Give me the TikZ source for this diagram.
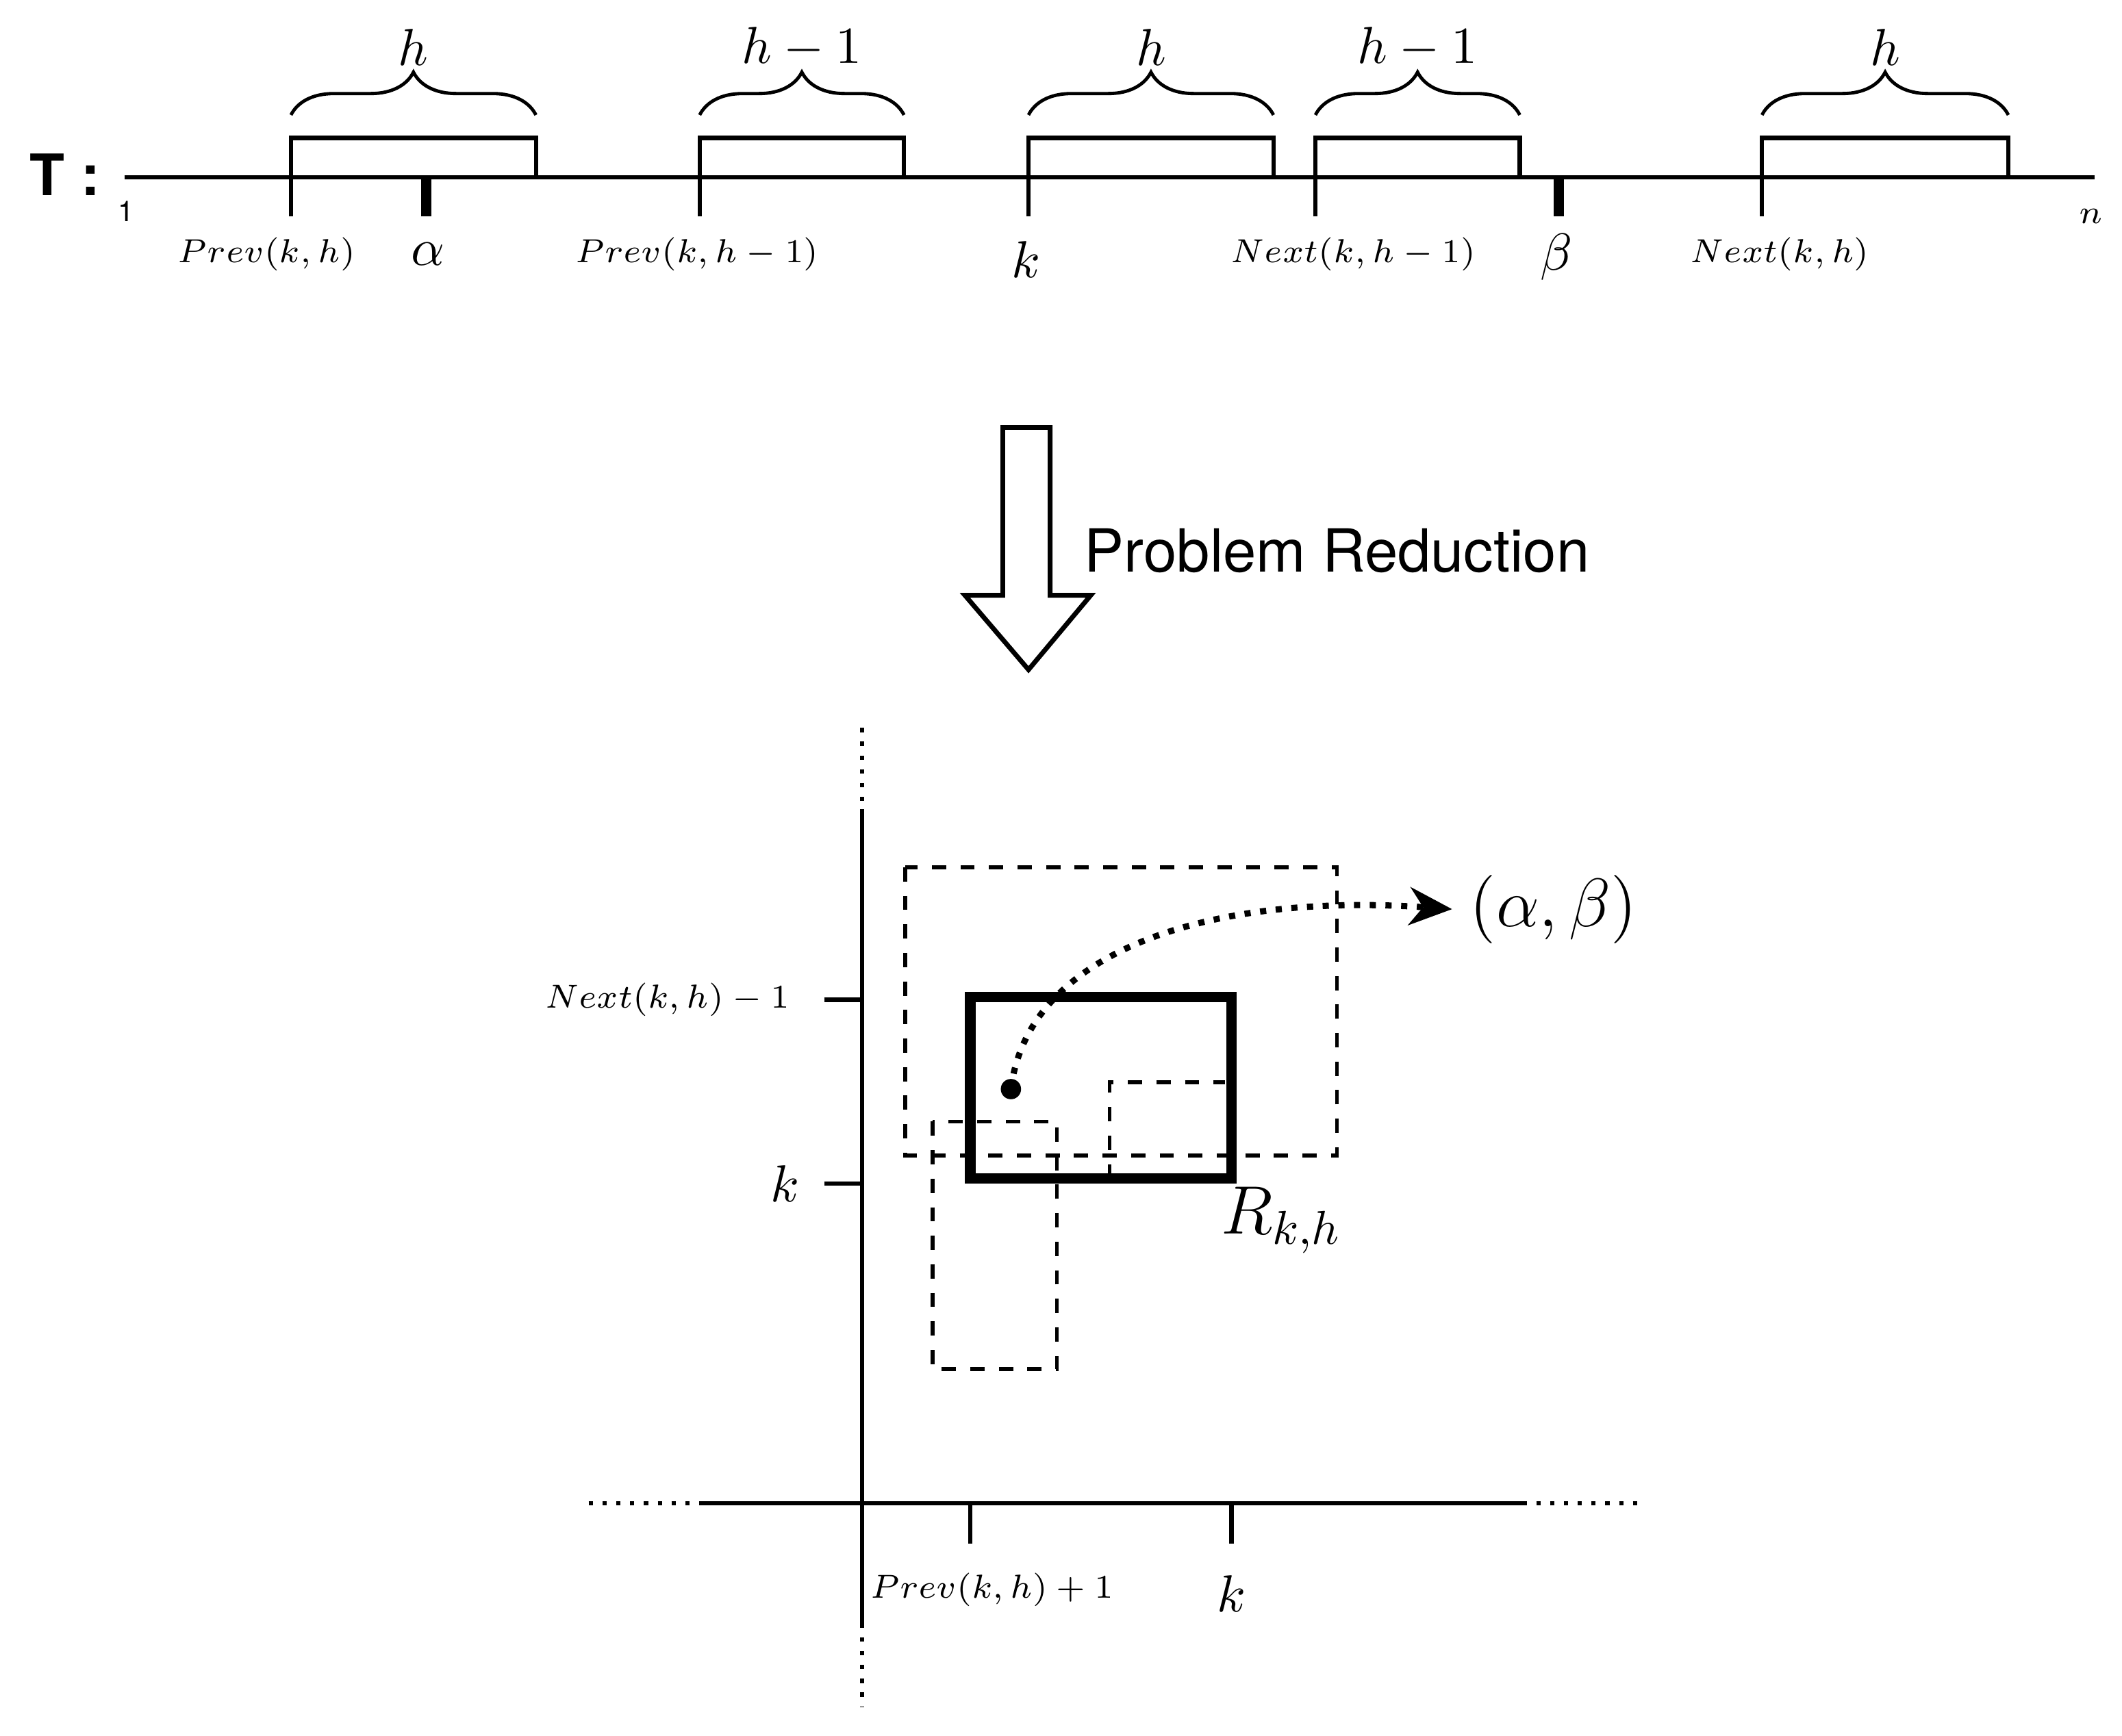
\documentclass[tikz,border=0pt]{standalone}
\usepackage{fontspec}
\newfontfamily\heros{TeX Gyre Heros}
\usetikzlibrary{decorations.pathreplacing,arrows.meta,shapes.arrows}
\begin{document}
\begin{tikzpicture}[x=0.01cm,y=-0.01cm,line width=0.9pt,
  lab/.style={font=\fontsize{7.5}{9}\selectfont},
  top/.style={font=\fontsize{11}{13}\selectfont},
  brc/.style={decorate,decoration={brace,amplitude=9pt},line width=0.7pt},
  dsh/.style={dashed,line width=0.8pt}]
\useasboundingbox (0,0) rectangle (1568,1283);
% timeline
\node[font=\heros\bfseries\fontsize{12}{14}\selectfont] (T) at (48,129) {T :};
\coordinate (L) at (92,131); \coordinate (R) at (1548,131);
\draw (L) -- (R);
\node[font=\heros\fontsize{6}{7}\selectfont] (one) at (93,156) {1};
\node[lab] (n) at (1545,160) {$n$};
\foreach \a/\b/\t/\nm in {215/396/h/b1,517/668/h-1/b2,760/941/h/b3,972/1123/h-1/b4,1302/1484/h/b5}{
  \draw (\a,160) -- (\a,102) -- (\b,102) -- (\b,131);
  \draw[brc] (\a,85) -- (\b,85);
  \node[top] (\nm) at ({(\a+\b)/2},35) {$\t$};
}
\draw[line width=2.2pt] (315,131) -- (315,160);
\draw[line width=2.2pt] (1152,131) -- (1152,160);
\node[lab] (p1) at (197,188) {$Prev(k,h)$};
\node[top] (al) at (316,188) {$\alpha$};
\node[lab] (p2) at (515,188) {$Prev(k,h-1)$};
\node[top] (kk) at (758,192) {$k$};
\node[lab] (n1) at (1000,188) {$Next(k,h-1)$};
\node[top] (be) at (1150,190) {$\beta$};
\node[lab] (n2) at (1315,188) {$Next(k,h)$};
% big arrow
\draw[line width=1pt,fill=white] (741,316) -- (776,316) -- (776,440) -- (806,440) -- (760,495) -- (713,440) -- (741,440) -- cycle;
\node[font=\heros\fontsize{12.5}{14}\selectfont] (pr) at (988,407) {Problem Reduction};
% axes
\draw (637,598) -- (637,1200);
\draw[dotted] (637,538) -- (637,598); \draw[dotted] (637,1200) -- (637,1262);
\draw (517,1111) -- (1125,1111);
\draw[dotted] (435,1111) -- (517,1111); \draw[dotted] (1125,1111) -- (1212,1111);
\draw (609,739) -- (637,739); \draw (609,875) -- (637,875);
\draw (717,1111) -- (717,1141); \draw (910,1111) -- (910,1141);
\node[lab,anchor=east] (ny) at (597,739) {$Next(k,h)-1$};
\node[top] (ky) at (580,875) {$k$};
\node[lab] (px) at (733,1175) {$Prev(k,h)+1$};
\node[top] (kx) at (910,1178) {$k$};
% rectangles
\draw[dsh] (669,641) rectangle (988,854);
\draw[dsh] (689,829) rectangle (781,1012);
\draw[dsh] (820,871) -- (820,800) -- (905,800);
\draw[line width=2.2pt] (717,737) rectangle (910,871);
\node[font=\fontsize{14}{16}\selectfont] (Rk) at (947,902) {$R_{k,h}$};
\fill (747,805) circle (7.5);
\coordinate (dot) at (747,805);
\node[font=\fontsize{15}{17}\selectfont] (ab) at (1148,672) {$(\alpha,\beta)$};
\draw[dotted,line width=1.3pt,-{Stealth[length=9pt,width=8pt]}] (dot) .. controls (760,700) and (900,660) .. (ab.west);
\end{tikzpicture}
\end{document}
